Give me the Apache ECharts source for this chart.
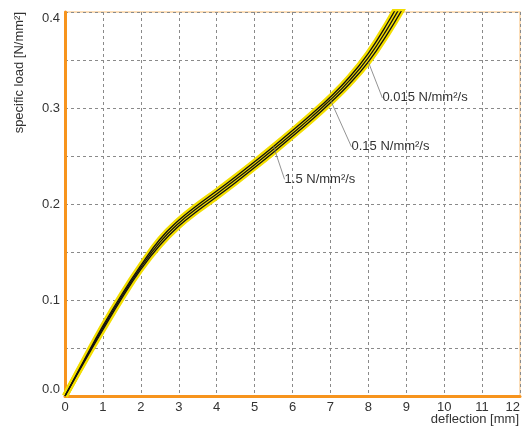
<!DOCTYPE html>
<html>
<head>
<meta charset="utf-8">
<script src="https://cdn.jsdelivr.net/npm/echarts@6/dist/echarts.min.js"></script>
<style>html,body{margin:0;padding:0;background:#fff}#c{width:525px;height:430px}</style>
</head>
<body>
<div id="c"></div>
<script>
// deflection [mm] sample points
var deflection = [0, 0.5, 1, 1.5, 2, 2.5, 3, 3.5, 4, 4.5, 5, 5.5, 6, 6.5, 7, 7.5, 8, 8.5, 9];
// specific load [N/mm²] per loading rate
var load_1_5   = [0, 0.037, 0.073, 0.106, 0.136, 0.163, 0.183, 0.199, 0.2135, 0.2285, 0.244, 0.260, 0.2765, 0.2935, 0.3115, 0.332, 0.357, 0.388, 0.423];
var load_0_15  = [0, 0.036, 0.071, 0.104, 0.134, 0.160, 0.180, 0.196, 0.2105, 0.2255, 0.241, 0.257, 0.2735, 0.2905, 0.3085, 0.3285, 0.3525, 0.3825, 0.4165];
var load_0_015 = [0, 0.035, 0.069, 0.102, 0.132, 0.157, 0.177, 0.193, 0.2075, 0.2225, 0.238, 0.254, 0.2705, 0.2875, 0.3055, 0.325, 0.348, 0.377, 0.410];
var seriesNames = ['1.5 N/mm²/s', '0.15 N/mm²/s', '0.015 N/mm²/s'];
var labelAt = [5.5, 7, 8];          // deflection where each curve is labelled
var xTickLabels = ['0','1','2','3','4','5','6','7','8','9','10','11','12'];
var yTickLabels = ['0.0','0.1','0.2','0.3','0.4'];

var FONT = 'Liberation Sans';
var chart = echarts.init(document.getElementById('c'));
var allLoads = [load_1_5, load_0_15, load_0_015];
var labelOffsets = [[11, 33], [21, 47], [14, 36]];

var series = [];
allLoads.forEach(function (arr) {
  series.push({
    type: 'line', smooth: 0.45, symbol: 'none', silent: true, z: 2,
    data: deflection.map(function (x, i) { return [x, arr[i]]; }),
    lineStyle: { color: '#f2dd00', width: 6 }
  });
});
allLoads.forEach(function (arr, k) {
  series.push({
    type: 'line', smooth: 0.45, silent: true, z: 3,
    symbol: 'circle', symbolSize: 0.1, showSymbol: true, showAllSymbol: true,
    itemStyle: { color: 'rgba(0,0,0,0)' },
    name: seriesNames[k],
    data: deflection.map(function (x, i) {
      var item = { value: [x, arr[i]] };
      if (x === labelAt[k]) {
        item.label = {
          show: true, position: 'right', distance: 0,
          formatter: seriesNames[k],
          color: '#333', fontSize: 13, fontFamily: FONT
        };
      }
      return item;
    }),
    lineStyle: { color: '#111', width: 1.3 },
    labelLayout: { dx: labelOffsets[k][0], dy: labelOffsets[k][1] },
    labelLine: { show: true, lineStyle: { color: '#777', width: 0.8 } }
  });
});

chart.setOption({
  animation: false,
  grid: { left: 65, right: 5, top: 12, bottom: 34, show: true, borderColor: '#fcd3a3', borderWidth: 1.5, backgroundColor: 'transparent' },
  xAxis: {
    type: 'value', min: 0, max: 12, interval: 1,
    axisLine: { show: true, lineStyle: { color: '#f7941d', width: 3 } },
    axisTick: { show: false },
    axisLabel: {
      color: '#333', fontSize: 13, fontFamily: FONT, margin: 5,
      formatter: function (v) { return xTickLabels[Math.round(v)]; },
      alignMaxLabel: 'right'
    },
    splitLine: { show: true, lineStyle: { color: '#8a8a8a', type: [3, 3], width: 1 } }
  },
  yAxis: {
    type: 'value', min: 0, max: 0.4, interval: 0.05,
    axisLine: { show: true, lineStyle: { color: '#f7941d', width: 3 } },
    axisTick: { show: false },
    axisLabel: {
      color: '#333', fontSize: 13, fontFamily: FONT, margin: 5,
      formatter: function (v) {
        var r = Math.round(v * 100);
        return r % 10 === 0 ? yTickLabels[r / 10] : '';
      },
      verticalAlignMinLabel: 'bottom', verticalAlignMaxLabel: 'top'
    },
    splitLine: { show: true, lineStyle: { color: '#8a8a8a', type: [3, 3], width: 1 } }
  },
  graphic: [
    { type: 'text', x: 19, y: 12, rotation: Math.PI / 2,
      style: { text: 'specific load [N/mm²]', fill: '#333', font: '13px "' + FONT + '"', textAlign: 'right', textVerticalAlign: 'middle' } },
    { type: 'text', x: 519, y: 419,
      style: { text: 'deflection [mm]', fill: '#333', font: '13px "' + FONT + '"', textAlign: 'right', textVerticalAlign: 'middle' } }
  ],
  series: series
});
</script>
</body>
</html>
